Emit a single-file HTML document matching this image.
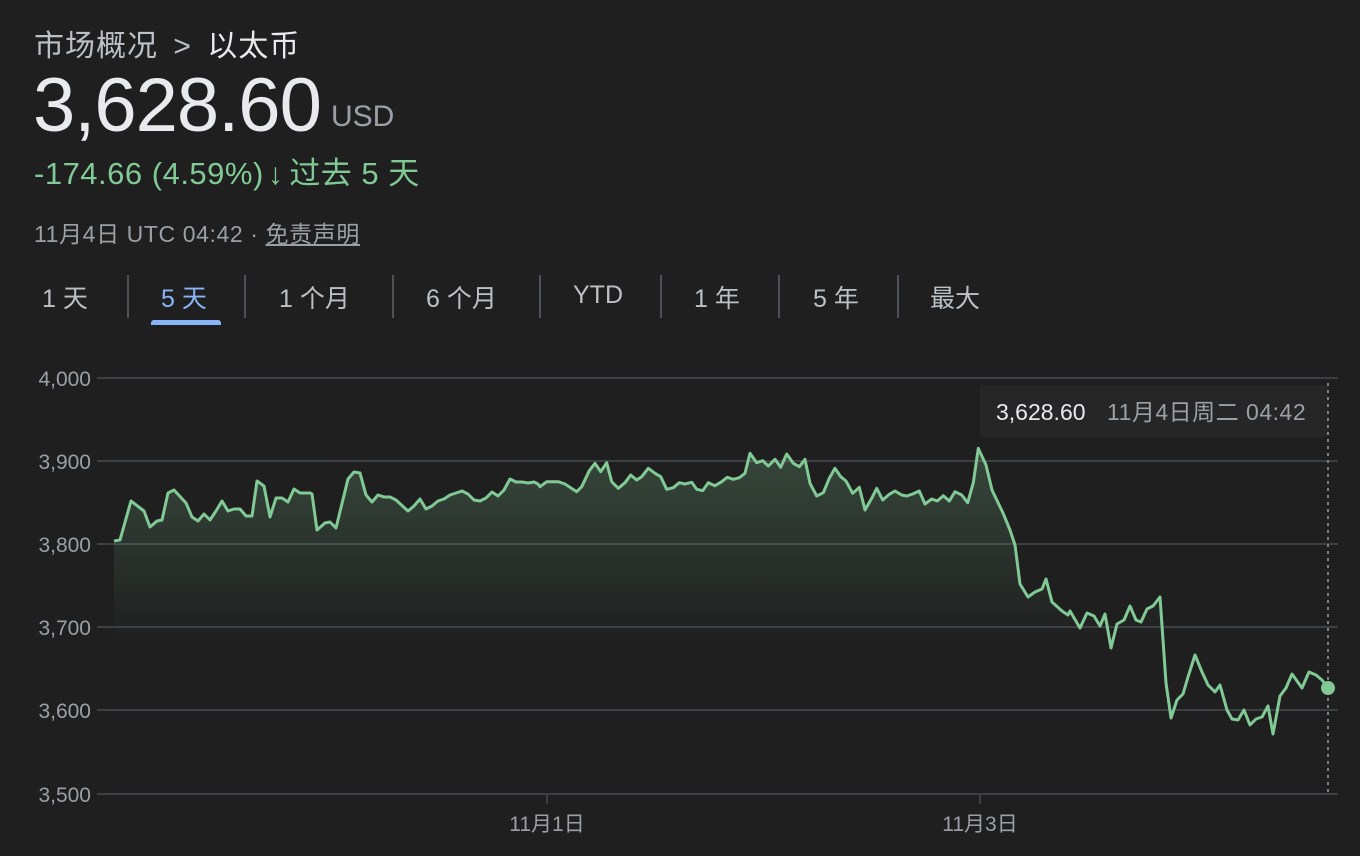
<!DOCTYPE html>
<html><head><meta charset="utf-8"><style>
body{margin:0;background:#1f1f1f;width:1360px;height:856px;overflow:hidden;font-family:"Liberation Sans","Noto Sans CJK SC",sans-serif;color:#e8eaed;position:relative}
.a{position:absolute;white-space:nowrap}
</style></head><body>
<div class="a" style="left:34px;top:21px;font-size:30px;color:#bdc1c6;letter-spacing:1px">市场概况 <span style="margin:0 6px">&gt;</span> <span style="color:#e8eaed">以太币</span></div>
<div class="a" style="left:33px;top:62px;font-size:76px;color:#e8eaed;letter-spacing:-1px">3,628.60</div>
<div class="a" style="left:331px;top:100px;font-size:30px;color:#9aa0a6">USD</div>
<div class="a" style="left:34px;top:148px;font-size:31px;color:#81c995;letter-spacing:0.5px">-174.66 (4.59%)<span style="font-size:30px;font-weight:bold;margin:0 6px 0 4px">↓</span>过去 5 天</div>
<div class="a" style="left:34px;top:215px;font-size:23px;color:#9aa0a6;letter-spacing:0.6px">11月4日 UTC 04:42 · <span style="text-decoration:underline">免责声明</span></div>
<div class="a" style="left:42px;top:279px;font-size:25px;color:#bdc1c6">1 天</div>
<div class="a" style="left:161px;top:279px;font-size:25px;color:#8ab4f8">5 天</div>
<div class="a" style="left:151px;top:320px;width:70px;height:5px;background:#8ab4f8;border-radius:3px 3px 0 0"></div>
<div class="a" style="left:279px;top:279px;font-size:25px;color:#bdc1c6">1 个月</div>
<div class="a" style="left:426px;top:279px;font-size:25px;color:#bdc1c6">6 个月</div>
<div class="a" style="left:573px;top:281px;font-size:25px;color:#bdc1c6">YTD</div>
<div class="a" style="left:694px;top:279px;font-size:25px;color:#bdc1c6">1 年</div>
<div class="a" style="left:813px;top:279px;font-size:25px;color:#bdc1c6">5 年</div>
<div class="a" style="left:930px;top:279px;font-size:25px;color:#bdc1c6">最大</div>
<svg class="a" style="left:0;top:0" width="1360" height="856">
<g stroke="#5f6368" stroke-width="1.5">
<line x1="128" y1="275" x2="128" y2="318"/><line x1="245" y1="275" x2="245" y2="318"/><line x1="393" y1="275" x2="393" y2="318"/><line x1="540" y1="275" x2="540" y2="318"/><line x1="661" y1="275" x2="661" y2="318"/><line x1="779" y1="275" x2="779" y2="318"/><line x1="898" y1="275" x2="898" y2="318"/>
</g>
<g stroke="#3c4043" stroke-width="2">
<line x1="97" y1="378" x2="1338" y2="378"/><line x1="97" y1="461" x2="1338" y2="461"/><line x1="97" y1="544" x2="1338" y2="544"/><line x1="97" y1="627" x2="1338" y2="627"/><line x1="97" y1="710" x2="1338" y2="710"/><line x1="97" y1="794" x2="1338" y2="794"/>
<line x1="547" y1="794" x2="547" y2="804"/><line x1="980" y1="794" x2="980" y2="804"/>
</g>
<g font-size="21" fill="#9aa0a6" text-anchor="end" font-family="Liberation Sans,sans-serif">
<text x="91" y="386">4,000</text><text x="91" y="469">3,900</text><text x="91" y="552">3,800</text><text x="91" y="635">3,700</text><text x="91" y="718">3,600</text><text x="91" y="802">3,500</text>
</g>
<g font-size="21" fill="#9aa0a6" text-anchor="middle"><text x="547" y="831">11月1日</text><text x="980" y="831">11月3日</text></g>
<defs><linearGradient id="g" x1="0" y1="440" x2="0" y2="640" gradientUnits="userSpaceOnUse"><stop offset="0" stop-color="#81c995" stop-opacity="0.25"/><stop offset="1" stop-color="#81c995" stop-opacity="0"/></linearGradient></defs>
<path id="fill" fill="url(#g)"/>
<path id="ln" fill="none" stroke="#81c995" stroke-width="3" stroke-linejoin="round"/>
<rect x="980" y="385" width="348" height="52" fill="#262626"/>
<line x1="1328" y1="383" x2="1328" y2="794" stroke="#9aa0a6" stroke-width="1.5" stroke-dasharray="3,4"/>
<text x="996" y="420" font-size="23" fill="#e8eaed">3,628.60</text>
<text x="1107" y="420" font-size="23" fill="#9aa0a6" letter-spacing="0.5">11月4日周二 04:42</text>
<circle cx="1328" cy="688" r="7" fill="#81c995"/>
</svg>
<script>
var p1=[[114,541],[120,540],[131,501],[144,511],[150,527],[157,521],[162,520],[168,493],[174,490],[186,503],[192,517],[198,521],[204,514],[210,520],[216,511],[222,501],[228,511],[234,509],[240,509],[246,516],[252,516],[257,481],[264,486],[270,517],[276,498],[282,498],[288,502],[294,489],[300,493],[310,493],[312,494],[317,530],[325,523],[330,522],[336,528],[348,479],[354,472],[360,473],[366,495],[372,502],[378,495],[384,497],[390,497],[396,500],[408,511],[414,506],[420,499],[426,509],[432,506],[438,501],[444,499],[450,495],[462,491],[468,494],[474,500],[480,501],[486,498],[492,492],[498,496],[504,490],[510,479],[516,482],[522,482],[528,483],[534,482],[538,484]];
var z2=[[0,170],[20,155],[55,155],[75,162],[110,185],[125,170],[148,122],[165,100],[182,125],[200,98],[215,155],[235,175],[255,158],[272,135],[290,150],[305,140],[325,115],[345,130],[362,140],[380,178],[400,173],[418,158],[435,162],[455,157],[470,178],[488,182],[505,158],[525,167],[545,155],[562,142],[580,148],[598,143],[615,130],[630,70],[650,98],[668,92],[685,108],[705,88],[722,112],[740,72],[760,100],[778,110],[795,88],[810,160],[830,198],[850,188],[868,145],[885,115],[902,140],[918,153],[938,190],[958,172],[975,240],[995,205],[1010,175],[1028,210],[1048,193],[1065,183],[1085,195],[1100,198],[1118,192],[1138,183],[1155,222],[1175,207],[1192,213],[1210,197],[1228,213],[1245,185],[1265,195],[1283,218],[1300,158],[1315,55]];
var p3=[[979,450],[986,465],[992,490],[1003,513],[1010,530],[1015,545],[1020,584],[1028,597],[1035,592],[1042,589],[1046,579],[1052,602],[1062,611],[1068,615],[1070,611],[1080,628],[1087,613],[1094,616],[1100,626],[1105,614],[1111,648],[1117,624],[1124,620],[1130,606],[1136,620],[1141,622],[1147,609],[1153,606],[1160,597],[1166,683],[1171,718],[1177,700],[1183,694],[1188,677],[1195,655],[1202,672],[1208,685],[1215,692],[1220,685],[1227,710],[1232,719],[1238,720],[1244,710],[1250,725],[1256,719],[1262,717],[1268,706],[1273,734],[1280,696],[1286,688],[1292,674],[1302,688],[1309,672],[1316,675],[1322,680],[1328,688]];
var pts=p1.concat(z2.map(function(a){return [540+a[0]/3,430+a[1]/3]}),p3);
var d=pts.map(function(a,i){return (i?'L':'M')+a[0].toFixed(1)+' '+a[1].toFixed(1)}).join(' ');
document.getElementById('ln').setAttribute('d',d);
document.getElementById('fill').setAttribute('d',d+' L1328 794 L114 794 Z');
</script>
</body></html>
